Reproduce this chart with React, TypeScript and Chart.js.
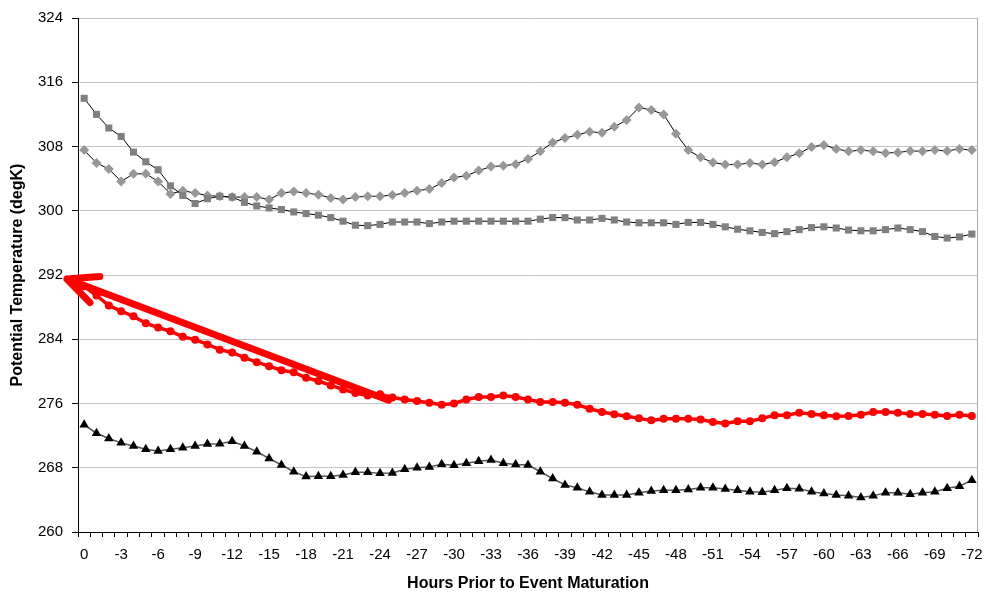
import React, { useEffect, useRef } from "react";
import { Chart, registerables } from "chart.js";

Chart.register(...registerables);

const hours = [
  "0", "-1", "-2", "-3", "-4", "-5", "-6", "-7", "-8", "-9", "-10", "-11", "-12",
  "-13", "-14", "-15", "-16", "-17", "-18", "-19", "-20", "-21", "-22", "-23", "-24",
  "-25", "-26", "-27", "-28", "-29", "-30", "-31", "-32", "-33", "-34", "-35", "-36",
  "-37", "-38", "-39", "-40", "-41", "-42", "-43", "-44", "-45", "-46", "-47", "-48",
  "-49", "-50", "-51", "-52", "-53", "-54", "-55", "-56", "-57", "-58", "-59", "-60",
  "-61", "-62", "-63", "-64", "-65", "-66", "-67", "-68", "-69", "-70", "-71", "-72",
];
const LABEL_EVERY = 3;

const graySquares = [
  314.0, 312.0, 310.3, 309.25, 307.3, 306.1, 305.1, 303.1, 301.9, 300.9, 301.5, 301.8, 301.7,
  301.05, 300.6, 300.35, 300.15, 299.85, 299.65, 299.45, 299.15, 298.7, 298.2, 298.15, 298.3,
  298.6, 298.6, 298.6, 298.4, 298.6, 298.7, 298.7, 298.7, 298.7, 298.7, 298.7, 298.7,
  298.95, 299.15, 299.15, 298.85, 298.85, 299.05, 298.85, 298.6, 298.5, 298.5, 298.5, 298.3,
  298.55, 298.55, 298.3, 298.0, 297.7, 297.5, 297.3, 297.15, 297.4, 297.65, 297.9, 298.0,
  297.85, 297.6, 297.5, 297.5, 297.65, 297.85, 297.65, 297.4, 296.8, 296.6, 296.75, 297.1,
];

const grayDiamonds = [
  307.55, 305.95, 305.2, 303.65, 304.6, 304.6, 303.65, 302.1, 302.5, 302.2, 301.9, 301.8, 301.7,
  301.7, 301.7, 301.4, 302.2, 302.4, 302.2, 302.0, 301.6, 301.4, 301.7, 301.8, 301.8,
  301.95, 302.2, 302.5, 302.7, 303.45, 304.15, 304.35, 305.0, 305.5, 305.6, 305.8, 306.45,
  307.4, 308.5, 309.05, 309.45, 309.85, 309.7, 310.45, 311.3, 312.85, 312.55, 312.0, 309.6,
  307.55, 306.65, 306.0, 305.75, 305.75, 305.95, 305.75, 306.05, 306.65, 307.15, 307.95, 308.2,
  307.7, 307.4, 307.55, 307.4, 307.2, 307.25, 307.45, 307.4, 307.55, 307.45, 307.7, 307.55,
];

const redSeries = [
  290.6, 289.45, 288.2, 287.5, 286.85, 286.0, 285.45, 285.0, 284.3, 283.95, 283.35, 282.7, 282.35,
  281.7, 281.15, 280.65, 280.15, 279.9, 279.2, 278.8, 278.25, 277.75, 277.3, 277.0, 277.15,
  276.75, 276.5, 276.3, 276.1, 275.85, 276.0, 276.5, 276.8, 276.8, 277.0, 276.8, 276.5,
  276.2, 276.2, 276.1, 275.85, 275.35, 274.95, 274.65, 274.4, 274.15, 273.9, 274.1, 274.1,
  274.1, 274.0, 273.7, 273.5, 273.8, 273.8, 274.15, 274.55, 274.55, 274.85, 274.7, 274.55,
  274.4, 274.45, 274.6, 274.95, 274.95, 274.85, 274.7, 274.7, 274.6, 274.45, 274.6, 274.45,
];

const blackTriangles = [
  273.35, 272.3, 271.65, 271.1, 270.7, 270.3, 270.1, 270.3, 270.5, 270.7, 270.95, 271.0, 271.3,
  270.7, 270.0, 269.15, 268.35, 267.5, 266.9, 266.95, 266.95, 267.1, 267.45, 267.45, 267.3,
  267.35, 267.8, 268.0, 268.1, 268.45, 268.3, 268.55, 268.8, 268.95, 268.55, 268.4, 268.35,
  267.5, 266.65, 265.85, 265.5, 265.0, 264.6, 264.6, 264.6, 264.9, 265.1, 265.2, 265.2,
  265.3, 265.5, 265.5, 265.35, 265.2, 265.0, 264.95, 265.2, 265.45, 265.4, 265.0, 264.8,
  264.6, 264.5, 264.3, 264.5, 264.9, 264.9, 264.7, 264.9, 265.0, 265.45, 265.7, 266.45,
];

const yMin = 260;
const yMax = 324;
const yStep = 8;

// annotation arrow, in data units (category index, degK)
const arrowTail = { x: 24.7, y: 276.4 };
const arrowHead = { x: -1.4, y: 291.5 };

const FONT = "Arial, 'Liberation Sans', Helvetica, sans-serif";

const overlayPlugin = {
  id: "overlay",
  beforeDatasetsDraw(chart: any) {
    const { ctx, chartArea: a } = chart;
    ctx.save();
    ctx.strokeStyle = "#a8a8a8";
    ctx.lineWidth = 1;
    ctx.beginPath();
    ctx.moveTo(a.right - 0.5, a.top);
    ctx.lineTo(a.right - 0.5, a.bottom);
    ctx.stroke();
    ctx.restore();
  },
  afterDatasetsDraw(chart: any) {
    const { ctx } = chart;
    const xs = chart.scales.x;
    const ys = chart.scales.y;
    const x0 = xs.getPixelForValue(arrowTail.x);
    const y0 = ys.getPixelForValue(arrowTail.y);
    const x1 = xs.getPixelForValue(arrowHead.x);
    const y1 = ys.getPixelForValue(arrowHead.y);
    const ang = Math.atan2(y0 - y1, x0 - x1);
    const wing = 33;
    const spread = (25 * Math.PI) / 180;
    ctx.save();
    ctx.strokeStyle = "#ff0000";
    ctx.lineWidth = 7;
    ctx.lineCap = "round";
    ctx.lineJoin = "round";
    ctx.beginPath();
    ctx.moveTo(x0, y0);
    ctx.lineTo(x1, y1);
    ctx.moveTo(x1 + wing * Math.cos(ang - spread), y1 + wing * Math.sin(ang - spread));
    ctx.lineTo(x1, y1);
    ctx.lineTo(x1 + wing * Math.cos(ang + spread), y1 + wing * Math.sin(ang + spread));
    ctx.stroke();
    ctx.restore();
  },
};

export default function App() {
  const ref = useRef<HTMLCanvasElement | null>(null);

  useEffect(() => {
    if (!ref.current) return;
    const chart = new Chart(ref.current, {
      type: "line",
      data: {
        labels: hours,
        datasets: [
          {
            label: "Series 1",
            data: graySquares,
            borderColor: "#000000",
            borderWidth: 1,
            pointStyle: "rect",
            pointRadius: 5,
            pointBackgroundColor: "#808080",
            pointBorderColor: "#808080",
            pointBorderWidth: 0,
            tension: 0,
          },
          {
            label: "Series 2",
            data: grayDiamonds,
            borderColor: "#000000",
            borderWidth: 1,
            pointStyle: "rectRot",
            pointRadius: 5,
            pointBackgroundColor: "#989898",
            pointBorderColor: "#989898",
            pointBorderWidth: 0,
            tension: 0,
          },
          {
            label: "Series 3",
            data: redSeries,
            borderColor: "#ff0000",
            borderWidth: 3.5,
            pointStyle: "circle",
            pointRadius: 4,
            pointBackgroundColor: "#ff0000",
            pointBorderColor: "#ff0000",
            pointBorderWidth: 0,
            tension: 0,
          },
          {
            label: "Series 4",
            data: blackTriangles,
            borderColor: "#555555",
            borderWidth: 1.5,
            pointStyle: "triangle",
            pointRadius: 5.5,
            pointBackgroundColor: "#000000",
            pointBorderColor: "#000000",
            pointBorderWidth: 0,
            tension: 0,
          },
        ],
      },
      options: {
        responsive: false,
        animation: false,
        events: [],
        layout: { padding: { left: 0, right: 8, top: 18, bottom: 0 } },
        plugins: {
          legend: { display: false },
          tooltip: { enabled: false },
          title: { display: false },
        },
        scales: {
          x: {
            type: "category",
            offset: true,
            grid: {
              offset: true,
              drawOnChartArea: false,
              drawTicks: true,
              tickLength: 5,
              tickColor: "#000000",
            },
            border: { color: "#000000", width: 1 },
            ticks: {
              autoSkip: false,
              maxRotation: 0,
              minRotation: 0,
              padding: 9,
              color: "#000000",
              font: { family: FONT, size: 15 },
              callback: (_v: any, i: number) => (i % LABEL_EVERY === 0 ? hours[i] : ""),
            },
            title: {
              display: true,
              text: "Hours Prior to Event Maturation",
              color: "#000000",
              font: { family: FONT, size: 16, weight: "bold" },
              padding: { top: 4, bottom: 3 },
            },
            afterFit: (s: any) => {
              s.height = 64;
              s.paddingLeft = 0;
              s.paddingRight = 0;
            },
          },
          y: {
            min: yMin,
            max: yMax,
            grid: {
              color: "#c4c4c4",
              lineWidth: 1,
              drawTicks: true,
              tickLength: 6,
              tickColor: "#000000",
            },
            border: { color: "#000000", width: 1 },
            ticks: {
              stepSize: yStep,
              padding: 9,
              color: "#000000",
              font: { family: FONT, size: 15 },
            },
            title: {
              display: true,
              text: "Potential Temperature (degK)",
              color: "#000000",
              font: { family: FONT, size: 16, weight: "bold" },
              padding: { top: 8, bottom: 4 },
            },
            afterFit: (s: any) => {
              s.width = 78;
              s.paddingTop = 0;
              s.paddingBottom = 0;
            },
          },
        },
      },
      plugins: [overlayPlugin],
    } as any);
    return () => chart.destroy();
  }, []);

  return (
    <div style={{ position: "absolute", left: 0, top: 0, width: 986, height: 596, background: "#fff" }}>
      <canvas ref={ref} width={986} height={596} style={{ display: "block" }} />
    </div>
  );
}
